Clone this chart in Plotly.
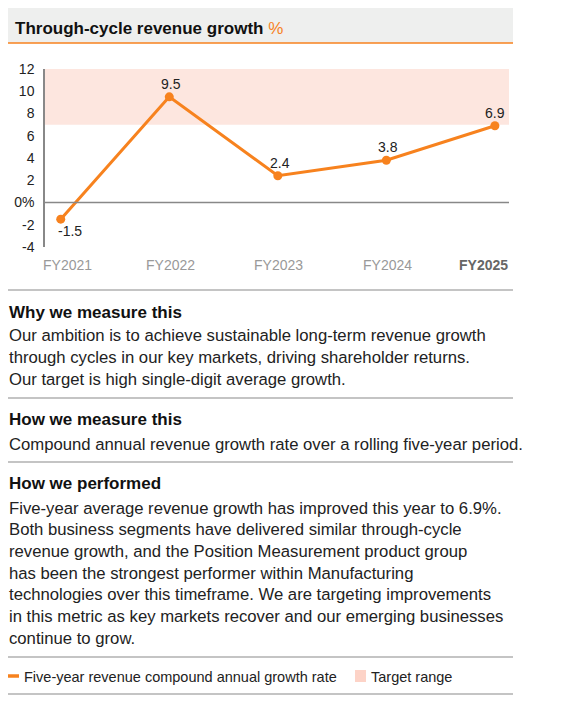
import plotly.graph_objects as go

# data
years = ["FY2021", "FY2022", "FY2023", "FY2024", "FY2025"]
growth = [-1.5, 9.5, 2.4, 3.8, 6.9]
target_low = 7
target_high = 12
y_ticks = [-4, -2, 0, 2, 4, 6, 8, 10, 12]
y_tick_text = ["-4", "-2", "0%", "2", "4", "6", "8", "10", "12"]

W, H = 570, 703
OFF = 8  # page body margin, the figure is drawn 8px in from the corner
ORANGE = "#f7821e"
FONT = "Liberation Sans, Arial, sans-serif"


def py(p):
    # pixel from top of the window -> paper y
    return 1 - (p - OFF) / H


def px_(p):
    return (p - OFF) / W


def note(x, y, text, size, color="#222", **kw):
    fig.add_annotation(x=px_(x), y=py(y), xref="paper", yref="paper",
                       xanchor="left", yanchor="middle", text=text, showarrow=False,
                       font=dict(family=FONT, size=size, color=color), **kw)


fig = go.Figure()

fig.add_trace(go.Scatter(
    x=list(range(len(years))), y=growth,
    mode="lines+markers",
    line=dict(color=ORANGE, width=3),
    marker=dict(color=ORANGE, size=9),
    hoverinfo="skip",
    showlegend=False,
))

# value labels (-ve below, +ve above)
for i, v in enumerate(growth):
    fig.add_annotation(
        x=i, y=v, xref="x", yref="y", text=f"{v:.1f}", showarrow=False,
        yanchor="middle", yshift=-12 if v < 0 else 13,
        xshift=9 if v < 0 else (2 if i < 4 else 0),
        font=dict(family=FONT, size=14, color="#222"),
    )

# target band
fig.add_shape(type="rect", xref="x domain", yref="y", x0=0, x1=1,
              y0=target_low, y1=target_high, fillcolor="#fde6df",
              line_width=0, layer="below")

# zero line
fig.add_shape(type="line", xref="x domain", yref="y", x0=0, x1=1, y0=0, y1=0,
              line=dict(color="#888", width=1.5))

# x tick labels
for i, yr in enumerate(years):
    last = i == len(years) - 1
    fig.add_annotation(
        x=i, y=py(265), xref="x", yref="paper", yanchor="middle",
        text=f"<b>{yr}</b>" if last else yr, showarrow=False,
        xshift=-11 if last else (7 if i == 0 else 1),
        font=dict(family=FONT, size=14, color="#666" if last else "#999"),
    )

# header bar
fig.add_shape(type="rect", xref="paper", yref="paper", x0=px_(7), x1=px_(513),
              y0=py(43), y1=py(4), fillcolor="#eeefee", line_width=0, layer="below")
fig.add_shape(type="line", xref="paper", yref="paper", x0=px_(7), x1=px_(513),
              y0=py(43), y1=py(43), line=dict(color=ORANGE, width=1.5))
note(13, 28, "<b>Through-cycle revenue growth</b> <span style='color:%s'>%%</span>" % ORANGE,
     17, color="#111")

# separators
for sy in [290, 398, 462, 657, 694]:
    fig.add_shape(type="line", xref="paper", yref="paper", x0=px_(7), x1=px_(513),
                  y0=py(sy), y1=py(sy), line=dict(color="#8a8a8a", width=1.2))

sections = [
    (312, "Why we measure this", [
        "Our ambition is to achieve sustainable long-term revenue growth",
        "through cycles in our key markets, driving shareholder returns.",
        "Our target is high single-digit average growth.",
    ], 336),
    (419, "How we measure this", [
        "Compound annual revenue growth rate over a rolling five-year period.",
    ], 444),
    (483, "How we performed", [
        "Five-year average revenue growth has improved this year to 6.9%.",
        "Both business segments have delivered similar through-cycle",
        "revenue growth, and the Position Measurement product group",
        "has been the strongest performer within Manufacturing",
        "technologies over this timeframe. We are targeting improvements",
        "in this metric as key markets recover and our emerging businesses",
        "continue to grow.",
    ], 508),
]
for hy, head, lines, by in sections:
    note(7, hy, f"<b>{head}</b>", 17, color="#111")
    for k, ln in enumerate(lines):
        note(7, by + k * 21.7, ln, 16.7)

# legend
fig.add_shape(type="line", xref="paper", yref="paper", x0=px_(7), x1=px_(19),
              y0=py(676), y1=py(676), line=dict(color=ORANGE, width=3.5))
note(22, 677, "Five-year revenue compound annual growth rate", 14.5)
fig.add_shape(type="rect", xref="paper", yref="paper", x0=px_(355), x1=px_(366),
              y0=py(682), y1=py(670), fillcolor="#fdd3c7", line_width=0)
note(369, 677, "Target range", 14.5)

fig.update_layout(
    width=W, height=H,
    margin=dict(l=0, r=0, t=0, b=0, pad=0, autoexpand=False),
    paper_bgcolor="white", plot_bgcolor="white",
    xaxis=dict(domain=[px_(45), px_(509)], range=[-0.145, 4.13], automargin=False,
               showticklabels=False, showgrid=False, zeroline=False, fixedrange=True),
    yaxis=dict(domain=[py(247), py(69)], range=[-4, 12], automargin=False,
               tickvals=y_ticks, ticktext=y_tick_text, showgrid=False, zeroline=False,
               showline=True, linecolor="#888", linewidth=1.5, ticks="",
               ticklabelstandoff=6, fixedrange=True,
               tickfont=dict(family=FONT, size=14, color="#222")),
    showlegend=False,
)

fig.write_html("out.html")
